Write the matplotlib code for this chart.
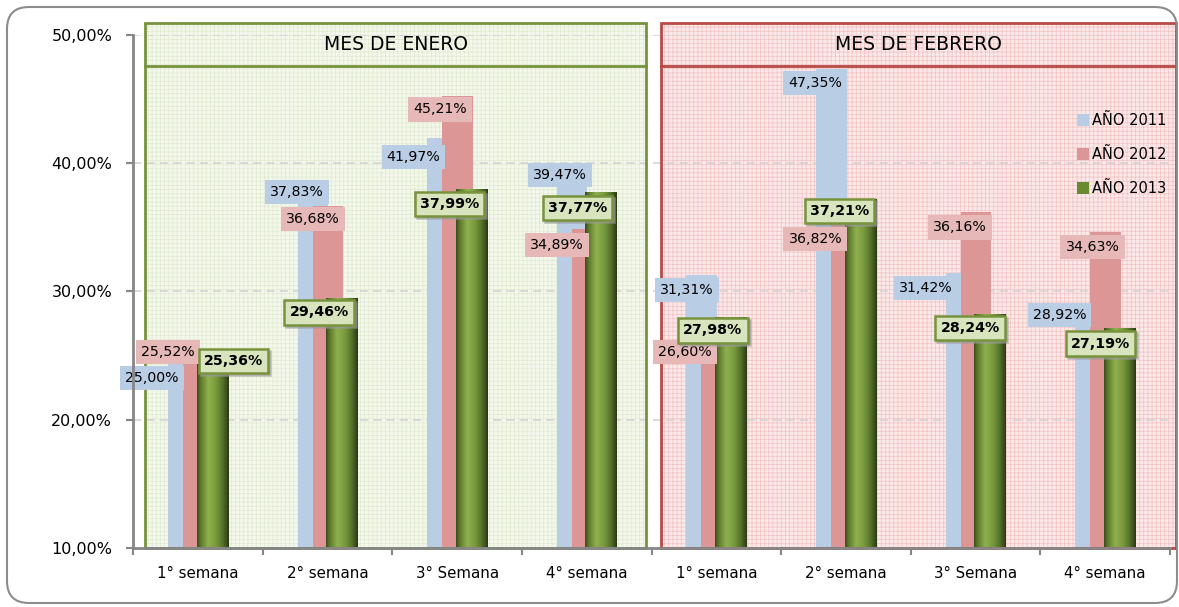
import matplotlib
matplotlib.use("Agg")
import matplotlib.pyplot as plt
import numpy as np
from matplotlib.patches import Rectangle, FancyBboxPatch, Patch
from matplotlib.colors import LinearSegmentedColormap
from matplotlib.ticker import FuncFormatter

# ---------------- data ----------------
categories = ['1° semana', '2° semana', '3° Semana', '4° semana',
              '1° semana', '2° semana', '3° Semana', '4° semana']
anio_2011 = [25.00, 37.83, 41.97, 39.47, 31.31, 47.35, 31.42, 28.92]
anio_2012 = [25.52, 36.68, 45.21, 34.89, 26.60, 36.82, 36.16, 34.63]
anio_2013 = [25.36, 29.46, 37.99, 37.77, 27.98, 37.21, 28.24, 27.19]
series_names = ['AÑO 2011', 'AÑO 2012', 'AÑO 2013']
months = ['MES DE ENERO', 'MES DE FEBRERO']
yticks = [10, 20, 30, 40, 50]

# label offsets in pixels (dx right, dy down) from bar top centre
lab_off_2011 = [(-31, 22), (-16, 1), (-29, 19), (-12, 5), (-15, 15), (-16, 14), (-35, 15), (-31, 10)]
lab_off_2012 = [(-30, 3), (-15, 13), (-17, 13), (-30, 16), (-32, 17), (-31, 35), (-16, 15), (-13, 15)]
lab_off_2013 = [(21, 10), (-23, 14), (-22, 15), (-24, 16), (-18, 13), (-21, 12), (-20, 14), (-19, 16)]

# ---------------- style ----------------
C_BLUE = '#b9cde5'
C_PINK = '#dc9695'
C_PINK_LAB = '#e6b9b8'
C_GREEN = '#77933c'
C_GREEN_LAB = '#d7e4bd'
AXIS_C = '#868686'
plt.rcParams['font.family'] = ['DejaVu Sans']
plt.rcParams['hatch.linewidth'] = 0.5

W, H = 1179, 607
fig = plt.figure(figsize=(W / 100, H / 100), dpi=100)
fig.patch.set_facecolor('white')
ax = fig.add_axes([133 / W, 59 / H, 1037 / W, 513 / H])
ax.set_facecolor('none')
ax.set_xlim(0, 8)
ax.set_ylim(10, 50)

# outer rounded border
fig.patches.append(FancyBboxPatch((0.07, 0.04), 11.70, 5.96,
                                  boxstyle='round,pad=0,rounding_size=0.22',
                                  transform=fig.dpi_scale_trans, fill=False,
                                  ec='#8c8c8c', lw=1.5, zorder=0))

# month boxes
box_specs = [(0.096, 3.958, '#f4f8ec', '#e1e9d0', C_GREEN),
             (4.074, 8.045, '#fbe8e8', '#f2c2c2', '#b84a48')]
top_y, head_y = 50.94, 47.58
for (x0, x1, fc, hc, ec), name in zip(box_specs, months):
    ax.add_patch(Rectangle((x0, 10), x1 - x0, top_y - 10, facecolor=fc,
                           edgecolor='none', clip_on=False, zorder=0.5))
    ax.add_patch(Rectangle((x0, 10), x1 - x0, top_y - 10, facecolor='none',
                           edgecolor=hc, hatch='++++', lw=0, clip_on=False, zorder=0.6))
    ax.add_patch(Rectangle((x0, 10), x1 - x0, top_y - 10, facecolor='none',
                           edgecolor=ec, lw=2, clip_on=False, zorder=3))
    ax.plot([x0, x1], [head_y, head_y], color=ec, lw=2, clip_on=False, zorder=3)
    ax.text((x0 + x1) / 2, (top_y + head_y) / 2, name, ha='center', va='center',
            fontsize=13.5, color='black', zorder=4)

# gridlines
for yv in yticks[1:]:
    ax.axhline(yv, color='#d4d4d4', lw=1.2, ls=(0, (5, 3)), zorder=0.8)

# bars
bw = 0.235
x = np.arange(len(categories))
b1 = ax.bar(x + 0.27, np.array(anio_2011) - 10, bw, bottom=10, align='edge',
            color=C_BLUE, zorder=1)
b2 = ax.bar(x + 0.385, np.array(anio_2012) - 10, bw, bottom=10, align='edge',
            color=C_PINK, zorder=1.1)
b3 = ax.bar(x + 0.49, np.array(anio_2013) - 10, bw + 0.01, bottom=10, align='edge',
            color=C_GREEN, zorder=1.2)

cmap = LinearSegmentedColormap.from_list('g', [(0, '#3d4e1d'), (0.12, '#5f7d2c'),
                                                (0.35, '#90b04f'), (0.6, '#789a3d'),
                                                (0.82, '#54702a'), (1, '#2d3a15')])
grad = np.linspace(0, 1, 64).reshape(1, -1)
for r in b3:
    x0, y0 = r.get_x(), r.get_y()
    im = ax.imshow(grad, cmap=cmap, aspect='auto', zorder=1.3,
                   extent=(x0, x0 + r.get_width(), y0, y0 + r.get_height()))
    im.set_clip_path(r)
ax.set_xlim(0, 8)
ax.set_ylim(10, 50)

# data labels
def fmt(v):
    return f'{v:.2f}%'.replace('.', ',')

for bars, vals, offs, fc, ec, bold in [
        (b1, anio_2011, lab_off_2011, C_BLUE, 'none', False),
        (b2, anio_2012, lab_off_2012, C_PINK_LAB, 'none', False),
        (b3, anio_2013, lab_off_2013, C_GREEN_LAB, C_GREEN, True)]:
    for r, v, (dx, dy) in zip(bars, vals, offs):
        cx = r.get_x() + r.get_width() / 2
        if bold:
            ax.annotate(fmt(v), (cx, v), xytext=(dx + 2, -dy - 2), textcoords='offset pixels',
                        ha='center', va='center', fontsize=10.2, fontweight='bold',
                        color='none',
                        bbox=dict(boxstyle='square,pad=0.36', fc='#9a9a9a', ec='#9a9a9a',
                                  lw=1.8, alpha=0.6),
                        zorder=4.9, annotation_clip=False)
        ax.annotate(fmt(v), (cx, v), xytext=(dx, -dy), textcoords='offset pixels',
                    ha='center', va='center', fontsize=10.2,
                    fontweight='bold' if bold else 'normal', color='black',
                    bbox=dict(boxstyle='square,pad=0.36', fc=fc, ec=ec,
                              lw=1.8 if bold else 0),
                    zorder=5 if bold else 4, annotation_clip=False)

# axes
for s in ['top', 'right']:
    ax.spines[s].set_visible(False)
for s in ['left', 'bottom']:
    ax.spines[s].set_color(AXIS_C)
    ax.spines[s].set_linewidth(2)
    ax.spines[s].set_zorder(6)
ax.set_yticks(yticks)
ax.yaxis.set_major_formatter(FuncFormatter(lambda v, p: f'{v:.2f}%'.replace('.', ',')))
ax.tick_params(axis='y', length=5, width=1.5, color=AXIS_C, pad=10, labelsize=11.5)
ax.set_xticks(np.arange(0, 9))
ax.set_xticklabels([])
ax.tick_params(axis='x', which='major', length=5, width=1.5, color=AXIS_C)
ax.set_xticks(x + 0.5, minor=True)
ax.set_xticklabels(categories, minor=True, fontsize=10.8)
ax.tick_params(axis='x', which='minor', length=0, pad=13)

# legend
handles = [Patch(facecolor=C_BLUE), Patch(facecolor=C_PINK), Patch(facecolor='#6a8a30')]
fig.legend(handles, series_names, loc='upper left',
           bbox_to_anchor=(1077 / W, 1 - 113 / H), frameon=False,
           handlelength=0.85, handleheight=0.85, handletextpad=0.2,
           labelspacing=1.3, fontsize=10.5, borderpad=0, borderaxespad=0)

fig.savefig('out.png', dpi=100, facecolor='white')
